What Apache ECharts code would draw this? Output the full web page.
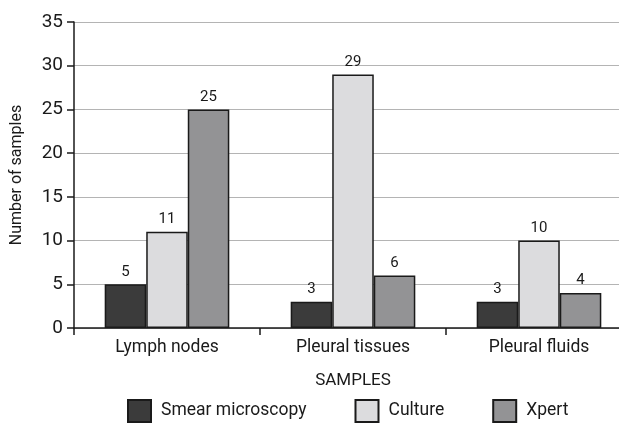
<!DOCTYPE html>
<html>
<head>
<meta charset="utf-8">
<script src="https://cdn.jsdelivr.net/npm/echarts@6/dist/echarts.min.js"></script>
<style>
  html, body { margin: 0; padding: 0; background: #fff; }
  #chart { width: 619px; height: 424px; }
</style>
</head>
<body>
<div id="chart"></div>
<script>
var categories = ['Lymph nodes', 'Pleural tissues', 'Pleural fluids'];
var smear = [5, 3, 3];
var culture = [11, 29, 10];
var xpert = [25, 6, 4];
var seriesNames = ['Smear microscopy', 'Culture', 'Xpert'];

var font = 'Roboto';
var ink = '#1a1a1a';

function bar(name, data, color) {
    return {
        name: name,
        type: 'bar',
        data: data,
        barGap: '0%',
        barCategoryGap: '33%',
        itemStyle: {color: color, borderColor: ink, borderWidth: 1.5},
        label: {
            show: true,
            position: 'top',
            distance: 5,
            color: ink,
            fontFamily: font,
            fontSize: 15
        }
    };
}

var option = {
    animation: false,
    textStyle: {fontFamily: font},
    // the plot runs past the right edge of the picture, as in the source
    grid: {
        left: 74, width: 558, top: 22, bottom: 96,
        containLabel: false,
        outerBoundsMode: 'none'
    },
    legend: {
        left: 127,
        top: 399,
        padding: 0,
        itemWidth: 23,
        itemHeight: 22,
        itemGap: 48,
        icon: 'rect',
        textStyle: {fontFamily: font, fontSize: 17.5, color: ink, padding: [0, 0, 0, 5]},
        data: seriesNames
    },
    xAxis: {
        type: 'category',
        data: categories,
        name: 'SAMPLES',
        nameLocation: 'middle',
        nameGap: 44,
        nameTextStyle: {fontFamily: font, fontSize: 17, color: ink},
        axisLine: {lineStyle: {color: ink, width: 1.5}},
        axisTick: {show: true, length: 7, lineStyle: {color: ink, width: 1.5}},
        axisLabel: {fontFamily: font, fontSize: 17.5, color: ink, margin: 11}
    },
    yAxis: {
        type: 'value',
        min: 0,
        max: 35,
        interval: 5,
        name: 'Number of samples',
        nameLocation: 'middle',
        nameGap: 49,
        nameTextStyle: {fontFamily: font, fontSize: 16, color: ink},
        axisLine: {show: true, lineStyle: {color: ink, width: 1.5}},
        axisTick: {show: true, length: 7, lineStyle: {color: ink, width: 1.5}},
        axisLabel: {fontFamily: font, fontSize: 19, color: ink, margin: 11},
        splitLine: {lineStyle: {color: '#b4b4b4', width: 1.2}}
    },
    series: [
        bar(seriesNames[0], smear, '#3b3b3b'),
        bar(seriesNames[1], culture, '#dcdcde'),
        bar(seriesNames[2], xpert, '#939395')
    ]
};

echarts.init(document.getElementById('chart')).setOption(option);
</script>
</body>
</html>
